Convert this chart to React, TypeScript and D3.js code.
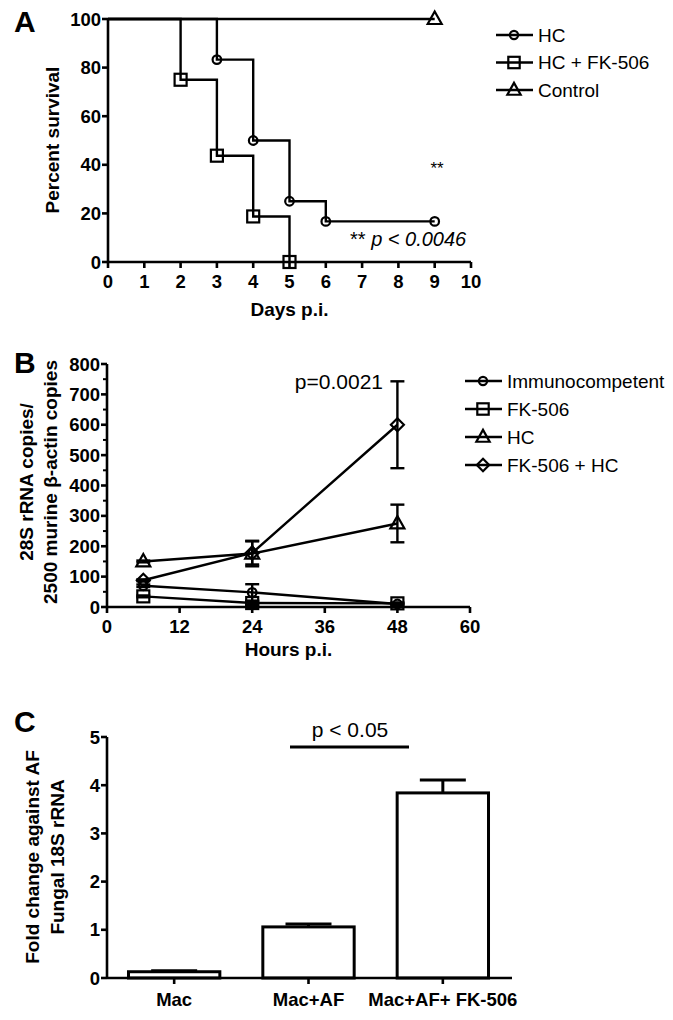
import React from "react";
import * as d3 from "d3";

// Panel A data (Kaplan-Meier survival)
const dayTicks = [0, 1, 2, 3, 4, 5, 6, 7, 8, 9, 10];
const survTicks = [0, 20, 40, 60, 80, 100];
const hcDays = [0, 3, 4, 5, 6, 9];
const hcSurv = [100, 83.3, 50, 25, 16.7, 16.7];
const hcFkDays = [0, 2, 3, 4, 5];
const hcFkSurv = [100, 75, 43.75, 18.75, 0];
const ctrlDays = [0, 9];
const ctrlSurv = [100, 100];
const legendA = ["HC", "HC + FK-506", "Control"];

// Panel B data
const hours = [6, 24, 48];
const hourTicks = [0, 12, 24, 36, 48, 60];
const copyTicks = [0, 100, 200, 300, 400, 500, 600, 700, 800];
const immunoVals = [70, 48, 10];
const immunoErr = [4, 27, 3];
const fkVals = [35, 13, 12];
const fkErr = [3, 6, 3];
const hcVals = [150, 176, 275];
const hcErr = [3, 42, 62];
const fkHcVals = [88, 178, 600];
const fkHcErr = [3, 38, 143];
const legendB = ["Immunocompetent", "FK-506", "HC", "FK-506 + HC"];

// Panel C data
const groupsC = ["Mac", "Mac+AF", "Mac+AF+ FK-506"];
const foldVals = [0.13, 1.06, 3.84];
const foldErr = [0.02, 0.06, 0.27];
const foldTicks = [0, 1, 2, 3, 4, 5];

const FONT = "'Liberation Sans', Arial, Helvetica, sans-serif";
const SW = 2.6;

type Shape = "circle" | "square" | "triangle" | "diamond";

function Marker({ x, y, shape, s = 1 }: { x: number; y: number; shape: Shape; s?: number }) {
  const common = { fill: "none", stroke: "#000", strokeWidth: 2.2 };
  if (shape === "circle") return <circle cx={x} cy={y} r={4.3 * s} {...common} />;
  if (shape === "square") {
    const h = 6 * s;
    return <rect x={x - h} y={y - h} width={2 * h} height={2 * h} {...common} />;
  }
  if (shape === "triangle") {
    const w = 7 * s;
    return (
      <path
        d={`M${x},${y - 7.5 * s}L${x + w},${y + 5 * s}L${x - w},${y + 5 * s}Z`}
        {...common}
        strokeLinejoin="miter"
      />
    );
  }
  const d = 6.5 * s;
  return <path d={`M${x},${y - d}L${x + d},${y}L${x},${y + d}L${x - d},${y}Z`} {...common} />;
}

export default function App() {
  // ---------- Panel A ----------
  const xA = d3.scaleLinear().domain([0, 10]).range([108, 471]);
  const yA = d3.scaleLinear().domain([0, 100]).range([262, 19]);
  const stepLine = d3
    .line<[number, number]>()
    .x((d) => xA(d[0]))
    .y((d) => yA(d[1]))
    .curve(d3.curveStepAfter);
  const zip = (a: number[], b: number[]) => a.map((v, i) => [v, b[i]] as [number, number]);
  const seriesA = [
    { pts: zip(hcDays, hcSurv), shape: "circle" as Shape },
    { pts: zip(hcFkDays, hcFkSurv), shape: "square" as Shape },
    { pts: zip(ctrlDays, ctrlSurv), shape: "triangle" as Shape },
  ];

  // ---------- Panel B ----------
  const xB = d3.scaleLinear().domain([0, 60]).range([107, 470]);
  const yB = d3.scaleLinear().domain([0, 800]).range([607, 364]);
  const lineB = d3
    .line<[number, number]>()
    .x((d) => xB(d[0]))
    .y((d) => yB(d[1]));
  const seriesB = [
    { vals: immunoVals, err: immunoErr, shape: "circle" as Shape },
    { vals: fkVals, err: fkErr, shape: "square" as Shape },
    { vals: hcVals, err: hcErr, shape: "triangle" as Shape },
    { vals: fkHcVals, err: fkHcErr, shape: "diamond" as Shape },
  ];
  const minorB = d3.range(50, 800, 100);

  // ---------- Panel C ----------
  const yC = d3.scaleLinear().domain([0, 5]).range([978, 737]);
  const xC = d3.scaleBand<string>().domain(groupsC).range([107, 510]).paddingInner(0.32).paddingOuter(0.16);

  const tickFont = { fontFamily: FONT, fontWeight: 700, fontSize: 18.5, fill: "#000" } as const;
  const titleFont = { fontFamily: FONT, fontWeight: 700, fontSize: 19, fill: "#000" } as const;
  const legFont = { fontFamily: FONT, fontWeight: 400, fontSize: 19, fill: "#000" } as const;
  const letterFont = { fontFamily: FONT, fontWeight: 700, fontSize: 30, fill: "#000" } as const;

  return (
    <svg
      width={673}
      height={1020}
      style={{ position: "absolute", left: 0, top: 0, background: "#fff" }}
    >
      <rect x={0} y={0} width={673} height={1020} fill="#fff" />

      {/* ================= Panel A ================= */}
      <text x={14} y={32} {...letterFont}>A</text>
      <line x1={108} x2={108} y1={yA(100)} y2={yA(0)} stroke="#000" strokeWidth={SW} />
      <line x1={108} x2={471} y1={yA(0)} y2={yA(0)} stroke="#000" strokeWidth={SW} />
      {survTicks.map((t) => (
        <g key={"ya" + t}>
          <line x1={102} x2={108} y1={yA(t)} y2={yA(t)} stroke="#000" strokeWidth={SW} />
          <text x={101} y={yA(t)} textAnchor="end" dominantBaseline="central" {...tickFont}>
            {t}
          </text>
        </g>
      ))}
      {dayTicks.map((t) => (
        <g key={"xa" + t}>
          <line x1={xA(t)} x2={xA(t)} y1={yA(0)} y2={yA(0) + 6} stroke="#000" strokeWidth={SW} />
          <text x={xA(t)} y={288} textAnchor="middle" {...tickFont}>
            {t}
          </text>
        </g>
      ))}
      <text x={xA(5)} y={316} textAnchor="middle" {...titleFont}>Days p.i.</text>
      <text
        transform={`translate(52,${140}) rotate(-90)`}
        textAnchor="middle"
        dominantBaseline="central"
        {...titleFont}
      >
        Percent survival
      </text>
      {seriesA.map((s, i) => (
        <g key={"sa" + i}>
          <path d={stepLine(s.pts) || ""} fill="none" stroke="#000" strokeWidth={2.4} />
          {s.pts.slice(1).map((p, j) => (
            <Marker key={j} x={xA(p[0])} y={yA(p[1])} shape={s.shape} />
          ))}
        </g>
      ))}
      <text x={437} y={174} textAnchor="middle" fontFamily={FONT} fontSize={17}>**</text>
      <text x={350} y={246} fontFamily={FONT} fontSize={20}>
        <tspan>**</tspan>
        <tspan fontStyle="italic"> p &lt; 0.0046</tspan>
      </text>
      {legendA.map((name, i) => {
        const y = 35 + i * 27.5;
        return (
          <g key={"la" + i}>
            <line x1={496} x2={533} y1={y} y2={y} stroke="#000" strokeWidth={2.4} />
            <Marker x={514} y={y} shape={seriesA[i].shape} s={0.95} />
            <text x={538} y={y} dominantBaseline="central" {...legFont}>
              {name}
            </text>
          </g>
        );
      })}

      {/* ================= Panel B ================= */}
      <text x={14} y={373} {...letterFont}>B</text>
      <line x1={107} x2={107} y1={yB(800)} y2={yB(0)} stroke="#000" strokeWidth={SW} />
      <line x1={107} x2={470} y1={yB(0)} y2={yB(0)} stroke="#000" strokeWidth={SW} />
      {copyTicks.map((t) => (
        <g key={"yb" + t}>
          <line x1={101} x2={107} y1={yB(t)} y2={yB(t)} stroke="#000" strokeWidth={SW} />
          <text x={100} y={yB(t)} textAnchor="end" dominantBaseline="central" {...tickFont}>
            {t}
          </text>
        </g>
      ))}
      {minorB.map((t) => (
        <line key={"mb" + t} x1={103} x2={107} y1={yB(t)} y2={yB(t)} stroke="#000" strokeWidth={2} />
      ))}
      {hourTicks.map((t) => (
        <g key={"xb" + t}>
          <line x1={xB(t)} x2={xB(t)} y1={yB(0)} y2={yB(0) + 6} stroke="#000" strokeWidth={SW} />
          <text x={xB(t)} y={633} textAnchor="middle" {...tickFont}>
            {t}
          </text>
        </g>
      ))}
      <text x={xB(30)} y={656} textAnchor="middle" {...titleFont}>Hours p.i.</text>
      <text
        transform={`translate(26,482) rotate(-90)`}
        textAnchor="middle"
        dominantBaseline="central"
        {...titleFont}
      >
        28S rRNA copies/
      </text>
      <text
        transform={`translate(50,482) rotate(-90)`}
        textAnchor="middle"
        dominantBaseline="central"
        {...titleFont}
      >
        2500 murine β-actin copies
      </text>
      {seriesB.map((s, i) => {
        const pts = hours.map((h, j) => [h, s.vals[j]] as [number, number]);
        return (
          <g key={"sb" + i}>
            <path d={lineB(pts) || ""} fill="none" stroke="#000" strokeWidth={2.4} />
            {hours.map((h, j) => {
              const x = xB(h);
              const top = yB(s.vals[j] + s.err[j]);
              const bot = yB(Math.max(0, s.vals[j] - s.err[j]));
              return (
                <g key={j}>
                  <line x1={x} x2={x} y1={top} y2={bot} stroke="#000" strokeWidth={2.4} />
                  <line x1={x - 7} x2={x + 7} y1={top} y2={top} stroke="#000" strokeWidth={2.4} />
                  <line x1={x - 7} x2={x + 7} y1={bot} y2={bot} stroke="#000" strokeWidth={2.4} />
                  <Marker x={x} y={yB(s.vals[j])} shape={s.shape} />
                </g>
              );
            })}
          </g>
        );
      })}
      <text x={383} y={389} textAnchor="end" fontFamily={FONT} fontSize={21}>
        p=0.0021
      </text>
      {legendB.map((name, i) => {
        const y = 381 + i * 28;
        return (
          <g key={"lb" + i}>
            <line x1={465} x2={502} y1={y} y2={y} stroke="#000" strokeWidth={2.4} />
            <Marker x={483} y={y} shape={seriesB[i].shape} s={0.95} />
            <text x={507} y={y} dominantBaseline="central" {...legFont}>
              {name}
            </text>
          </g>
        );
      })}

      {/* ================= Panel C ================= */}
      <text x={14} y={732} {...letterFont}>C</text>
      <line x1={107} x2={107} y1={yC(5)} y2={yC(0)} stroke="#000" strokeWidth={SW} />
      {foldTicks.map((t) => (
        <g key={"yc" + t}>
          <line x1={101} x2={107} y1={yC(t)} y2={yC(t)} stroke="#000" strokeWidth={SW} />
          <text x={100} y={yC(t)} textAnchor="end" dominantBaseline="central" {...tickFont}>
            {t}
          </text>
        </g>
      ))}
      <text
        transform={`translate(32,857) rotate(-90)`}
        textAnchor="middle"
        dominantBaseline="central"
        {...titleFont}
      >
        Fold change against AF
      </text>
      <text
        transform={`translate(57,857) rotate(-90)`}
        textAnchor="middle"
        dominantBaseline="central"
        {...titleFont}
      >
        Fungal 18S rRNA
      </text>
      {groupsC.map((g, i) => {
        const x0 = xC(g) as number;
        const w = xC.bandwidth();
        const cx = x0 + w / 2;
        const top = yC(foldVals[i]);
        const etop = yC(foldVals[i] + foldErr[i]);
        return (
          <g key={"bc" + i}>
            <line x1={cx} x2={cx} y1={top} y2={etop} stroke="#000" strokeWidth={3} />
            <line x1={cx - 23} x2={cx + 23} y1={etop} y2={etop} stroke="#000" strokeWidth={3} />
            <rect x={x0} y={top} width={w} height={yC(0) - top} fill="#fff" stroke="#000" strokeWidth={3} />
            <line x1={cx} x2={cx} y1={yC(0)} y2={yC(0) + 6} stroke="#000" strokeWidth={SW} />
            <text x={cx} y={1006} textAnchor="middle" {...tickFont}>
              {g}
            </text>
          </g>
        );
      })}
      <line x1={107} x2={512} y1={yC(0)} y2={yC(0)} stroke="#000" strokeWidth={SW} />
      <line x1={290} x2={409} y1={747} y2={747} stroke="#000" strokeWidth={3.2} />
      <text x={350} y={737} textAnchor="middle" fontFamily={FONT} fontSize={21}>
        p &lt; 0.05
      </text>
    </svg>
  );
}
